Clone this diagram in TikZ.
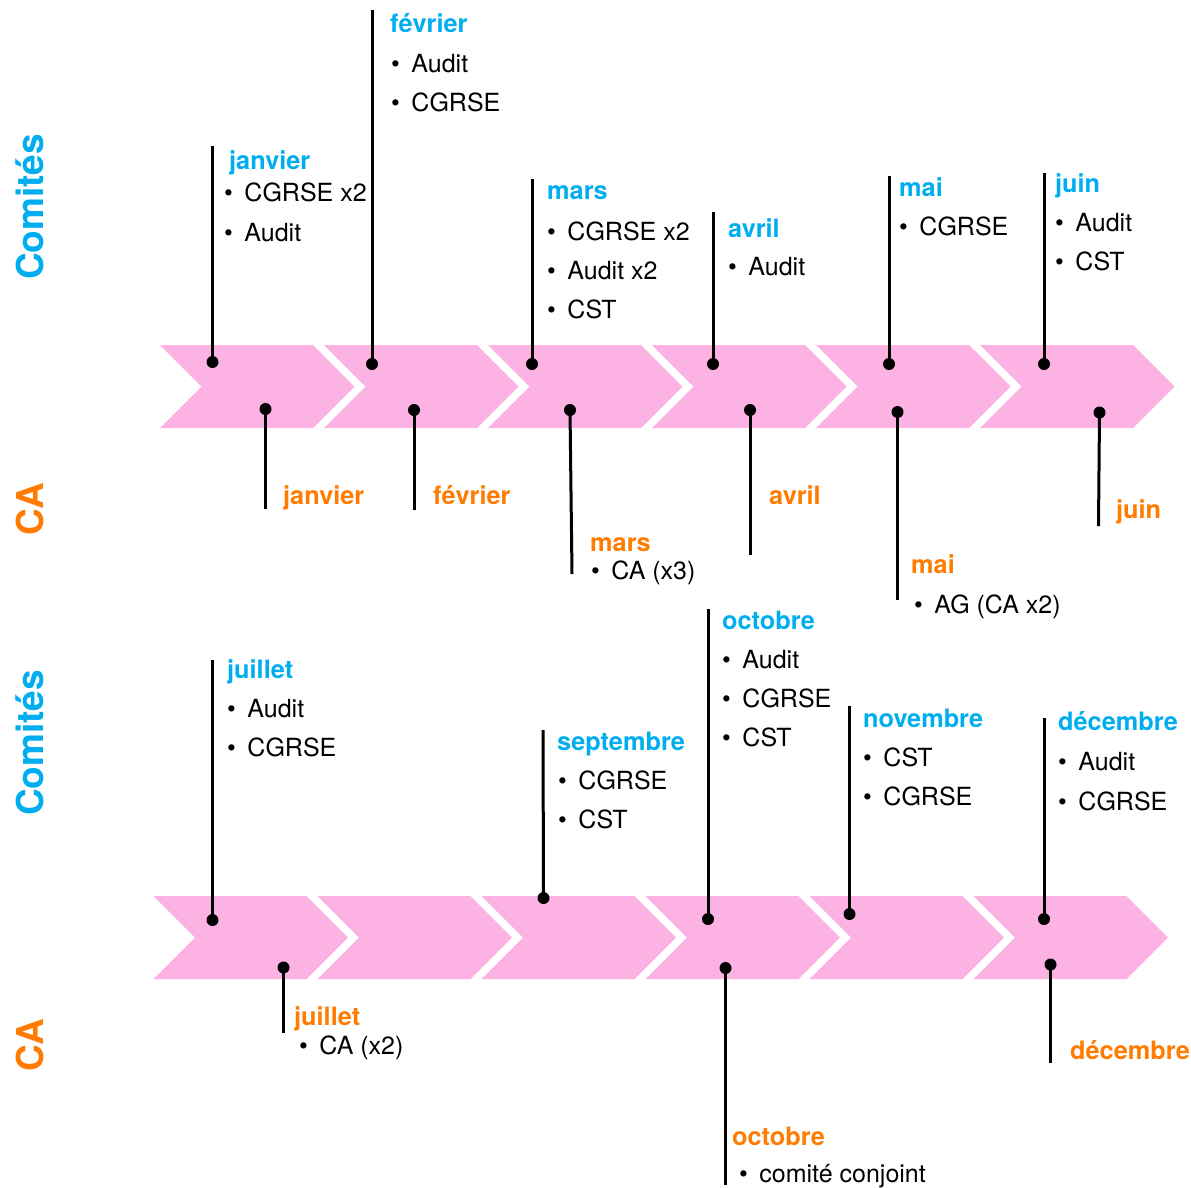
\documentclass[tikz,border=0pt]{standalone}
\usepackage{fontspec}
\setmainfont{TeX Gyre Heros}
\definecolor{cblue}{RGB}{0,174,239}
\definecolor{corange}{RGB}{255,124,0}
\definecolor{cpink}{RGB}{252,178,227}
\newcommand\bul{\textbullet\hspace{11.5pt}}
\begin{document}
\begin{tikzpicture}[x=1pt,y=-1pt,
  chev/.style={fill=cpink,draw=none},
  stem/.style={line width=3pt,draw=black},
  dot/.style={circle,fill=black,inner sep=0pt,minimum size=12pt},
  side/.style={anchor=base,rotate=90,inner sep=0pt,font=\bfseries\fontsize{37}{40}\selectfont},
  mon/.style={anchor=base west,inner sep=0pt,font=\bfseries\fontsize{25.3}{28}\selectfont},
  com/.style={mon,text=cblue},
  ca/.style={mon,text=corange},
  itm/.style={anchor=base west,inner sep=0pt,font=\fontsize{25}{28}\selectfont}]
\useasboundingbox (0,0) rectangle (1191,1187);

% side titles
\node[side,text=cblue]   (t-com1) at (43,207)  {Comités};
\node[side,text=corange] (t-ca1)  at (43,509)  {CA};
\node[side,text=cblue]   (t-com2) at (43,743)  {Comités};
\node[side,text=corange] (t-ca2)  at (43,1045) {CA};

% chevron bands
\foreach \i in {0,...,5}{
  \pgfmathsetmacro\xa{160+164*\i}
  \fill[chev] (\xa,345) -- ++(153,0) -- ++(41.5,41.5) -- ++(-41.5,41.5)
     -- ++(-153,0) -- ++(41.5,-41.5) -- cycle;
  \pgfmathsetmacro\xb{153.5+164*\i}
  \fill[chev] (\xb,896) -- ++(153,0) -- ++(41.5,41.5) -- ++(-41.5,41.5)
     -- ++(-153,0) -- ++(41.5,-41.5) -- cycle;
}

% ---------- first half: committees ----------
\node[dot] (c1d) at (212.5,362) {};  \coordinate (c1e) at (212.5,146);
\node[dot] (c2d) at (372,364) {};    \coordinate (c2e) at (372,10);
\node[dot] (c3d) at (532,364) {};    \coordinate (c3e) at (532,179);
\node[dot] (c4d) at (713,364) {};    \coordinate (c4e) at (713,212);
\node[dot] (c5d) at (889,364) {};    \coordinate (c5e) at (889,176);
\node[dot] (c6d) at (1044,364) {};   \coordinate (c6e) at (1044,173);
\foreach \k in {1,...,6}{\draw[stem] (c\k d.center) -- (c\k e);}

\node[com] (c1l) at (229,169) {janvier};
\node[itm] (c1a) at (224,201) {\bul CGRSE x2};
\node[itm] (c1b) at (224,241) {\bul Audit};

\node[com] (c2l) at (390,32) {février};
\node[itm] (c2a) at (391,72) {\bul Audit};
\node[itm] (c2b) at (391,111) {\bul CGRSE};

\node[com] (c3l) at (547,199) {mars};
\node[itm] (c3a) at (547,240) {\bul CGRSE x2};
\node[itm] (c3b) at (547,279) {\bul Audit x2};
\node[itm] (c3c) at (547,318) {\bul CST};

\node[com] (c4l) at (728,237) {avril};
\node[itm] (c4a) at (728,275) {\bul Audit};

\node[com] (c5l) at (899,196) {mai};
\node[itm] (c5a) at (899,235) {\bul CGRSE};

\node[com] (c6l) at (1055,192) {juin};
\node[itm] (c6a) at (1055,231) {\bul Audit};
\node[itm] (c6b) at (1055,270) {\bul CST};

% ---------- first half: board ----------
\node[dot] (a1d) at (265.5,409) {};  \coordinate (a1e) at (265.5,509);
\node[dot] (a2d) at (414,410) {};    \coordinate (a2e) at (414,510);
\node[dot] (a3d) at (570,410) {};    \coordinate (a3e) at (572,574);
\node[dot] (a4d) at (750,410) {};    \coordinate (a4e) at (750,555);
\node[dot] (a5d) at (897.5,412) {};  \coordinate (a5e) at (897.5,600);
\node[dot] (a6d) at (1099.5,412.5) {}; \coordinate (a6e) at (1098.5,526);
\foreach \k in {1,...,6}{\draw[stem] (a\k d.center) -- (a\k e);}

\node[ca] (a1l) at (283,504) {janvier};
\node[ca] (a2l) at (433,504) {février};
\node[ca] (a3l) at (590,551) {mars};
\node[itm] (a3a) at (591,579) {\bul CA (x3)};
\node[ca] (a4l) at (769,504) {avril};
\node[ca] (a5l) at (911,573) {mai};
\node[itm] (a5a) at (914,613) {\bul AG (CA x2)};
\node[ca] (a6l) at (1116,518) {juin};

% ---------- second half: committees ----------
\node[dot] (d1d) at (212.5,920) {};  \coordinate (d1e) at (212.5,660);
\node[dot] (d2d) at (543.5,898) {};  \coordinate (d2e) at (543,730);
\node[dot] (d3d) at (708,919) {};    \coordinate (d3e) at (708,609);
\node[dot] (d4d) at (849.5,914) {};  \coordinate (d4e) at (849.5,706);
\node[dot] (d5d) at (1044,919) {};   \coordinate (d5e) at (1044,718);
\foreach \k in {1,...,5}{\draw[stem] (d\k d.center) -- (d\k e);}

\node[com] (d1l) at (227,678) {juillet};
\node[itm] (d1a) at (227,717) {\bul Audit};
\node[itm] (d1b) at (227,756) {\bul CGRSE};

\node[com] (d2l) at (557,750) {septembre};
\node[itm] (d2a) at (558,789) {\bul CGRSE};
\node[itm] (d2b) at (558,828) {\bul CST};

\node[com] (d3l) at (722,629) {octobre};
\node[itm] (d3a) at (722,668) {\bul Audit};
\node[itm] (d3b) at (722,707) {\bul CGRSE};
\node[itm] (d3c) at (722,746) {\bul CST};

\node[com] (d4l) at (863,727) {novembre};
\node[itm] (d4a) at (863,766) {\bul CST};
\node[itm] (d4b) at (863,805) {\bul CGRSE};

\node[com] (d5l) at (1058,730) {décembre};
\node[itm] (d5a) at (1058,770) {\bul Audit};
\node[itm] (d5b) at (1058,810) {\bul CGRSE};

% ---------- second half: board ----------
\node[dot] (b1d) at (283.5,967.5) {}; \coordinate (b1e) at (283.5,1033);
\node[dot] (b2d) at (725.5,968) {};   \coordinate (b2e) at (725.5,1185);
\node[dot] (b3d) at (1050.5,964.5) {}; \coordinate (b3e) at (1050.5,1063);
\foreach \k in {1,...,3}{\draw[stem] (b\k d.center) -- (b\k e);}

\node[ca] (b1l) at (294,1025) {juillet};
\node[itm] (b1a) at (299,1054) {\bul CA (x2)};
\node[ca] (b2l) at (732,1145) {octobre};
\node[itm] (b2a) at (739,1182) {\bul comité conjoint};
\node[ca] (b3l) at (1070,1059) {décembre};
\end{tikzpicture}
\end{document}
